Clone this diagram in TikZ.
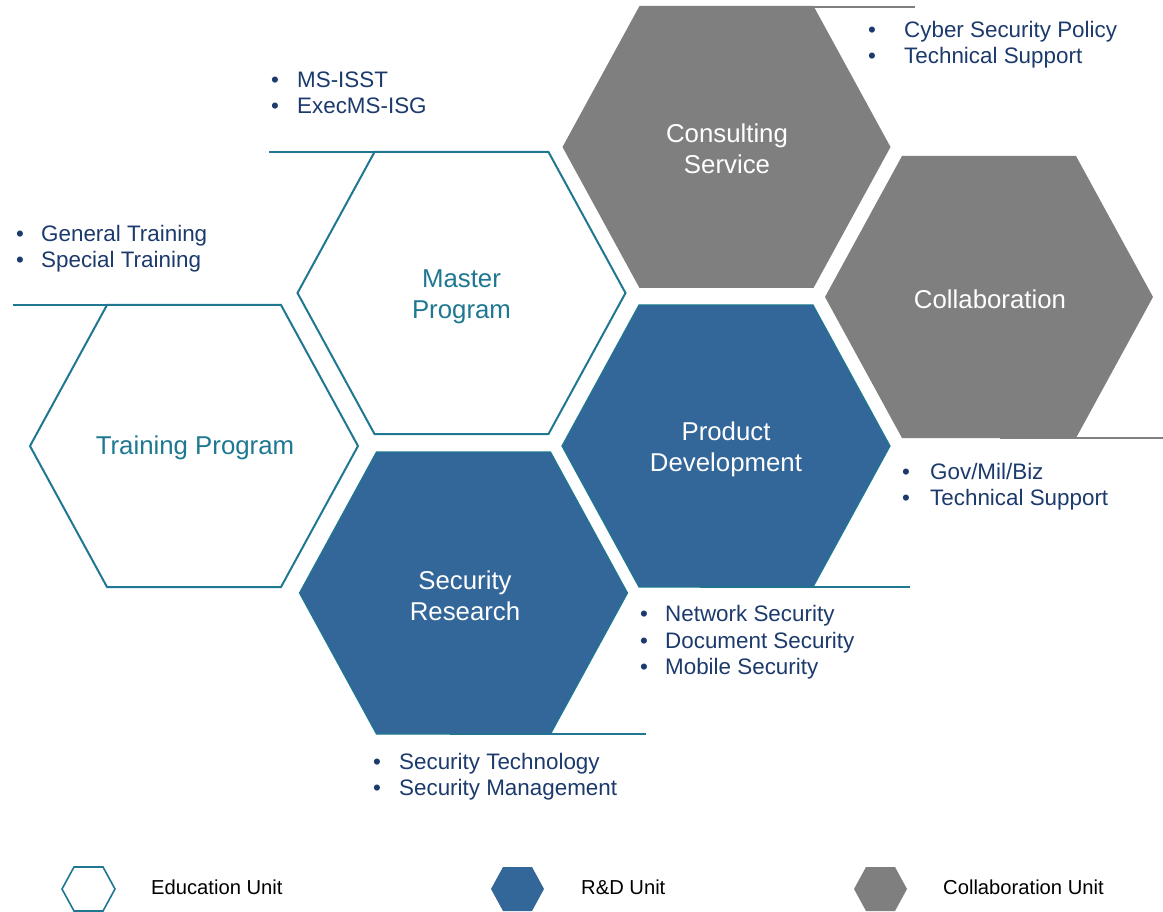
\documentclass[tikz,border=0pt]{standalone}
\usepackage{fontspec}
\setmainfont{Liberation Sans}
\definecolor{teal1}{RGB}{31,120,146}
\definecolor{navy1}{RGB}{28,58,108}
\definecolor{blue1}{RGB}{51,102,153}
\definecolor{gray1}{RGB}{127,127,127}
\newcommand{\hexshape}[3]{\path[#1] ({#2-164},{#3}) -- ({#2-87},{#3-141}) -- ({#2+87},{#3-141}) -- ({#2+164},{#3}) -- ({#2+87},{#3+141}) -- ({#2-87},{#3+141}) -- cycle;}
\newcommand{\minihex}[3]{\path[#1] ({#2-26.5},{#3}) -- ({#2-14.5},{#3-22}) -- ({#2+14.5},{#3-22}) -- ({#2+26.5},{#3}) -- ({#2+14.5},{#3+22}) -- ({#2-14.5},{#3+22}) -- cycle;}
\newcommand{\bitm}[2]{\makebox[#1pt][l]{\textbullet}#2}
\tikzset{
  eduhex/.style={draw=teal1, line width=2pt, fill=white, line join=miter},
  rndhex/.style={fill=blue1, draw=teal1, line width=1.2pt},
  colhex/.style={fill=gray1},
  edulbl/.style={text=teal1, font=\fontsize{25.8}{31}\selectfont, align=center, inner sep=0pt},
  whtlbl/.style={text=white, font=\fontsize{25.8}{31}\selectfont, align=center, inner sep=0pt},
  bitem/.style={text=navy1, font=\fontsize{22.4}{26}\selectfont, anchor=base west, inner sep=0pt},
  legtxt/.style={text=black, font=\fontsize{20.2}{24}\selectfont, anchor=base west, inner sep=0pt},
  tealline/.style={draw=teal1, line width=2pt},
  grayline/.style={draw=gray1, line width=2pt},
}
\begin{document}
\begin{tikzpicture}[x=1pt,y=-1pt]
\useasboundingbox[fill=white] (0,0) rectangle (1163,912);

% decorative lines
\draw[tealline] (13,305) -- (280,305);
\draw[tealline] (269,152) -- (548,152);
\draw[grayline] (640,7) -- (915,7);
\draw[grayline] (1000,438) -- (1163,438);
\draw[tealline] (700,587) -- (910,587);
\draw[tealline] (450,734) -- (646,734);

% hexagons
\hexshape{eduhex}{194}{446}
\hexshape{eduhex}{461.5}{293}
\hexshape{colhex}{726.5}{147}
\hexshape{colhex}{989}{297}
\hexshape{rndhex}{726}{446}
\hexshape{rndhex}{463.5}{593}

% labels
\node[edulbl] (train) at (195,448) {Training Program};
\node[edulbl] (master) at (461.5,297) {Master\\Program};
\node[whtlbl] (consult) at (727,149) {Consulting\\Service};
\node[whtlbl] (collab) at (990,299) {Collaboration};
\node[whtlbl] (product) at (726,449) {Product\\Development};
\node[whtlbl] (secres) at (465,596) {Security\\Research};

% bullet lists
\node[bitem] (b1a) at (16,242) {\bitm{25}{General Training}};
\node[bitem] (b1b) at (16,268) {\bitm{25}{Special Training}};
\node[bitem] (b2a) at (271,88) {\bitm{26}{MS-ISST}};
\node[bitem] (b2b) at (271,114) {\bitm{26}{ExecMS-ISG}};
\node[bitem] (b3a) at (868,38) {\bitm{36}{Cyber Security Policy}};
\node[bitem] (b3b) at (868,64) {\bitm{36}{Technical Support}};
\node[bitem] (b4a) at (902,479) {\bitm{28}{Gov/Mil/Biz}};
\node[bitem] (b4b) at (902,505) {\bitm{28}{Technical Support}};
\node[bitem] (b5a) at (640,621) {\bitm{25}{Network Security}};
\node[bitem] (b5b) at (640,648) {\bitm{25}{Document Security}};
\node[bitem] (b5c) at (640,674) {\bitm{25}{Mobile Security}};
\node[bitem] (b6a) at (373,769) {\bitm{26}{Security Technology}};
\node[bitem] (b6b) at (373,795) {\bitm{26}{Security Management}};

% legend
\minihex{draw=teal1, line width=1.6pt, fill=white}{88.5}{889}
\minihex{fill=blue1}{517.5}{889}
\minihex{fill=gray1}{880.5}{889}
\node[legtxt] (leg1) at (151,894) {Education Unit};
\node[legtxt] (leg2) at (581,894) {R\&D Unit};
\node[legtxt] (leg3) at (943,894) {Collaboration Unit};
\end{tikzpicture}
\end{document}
